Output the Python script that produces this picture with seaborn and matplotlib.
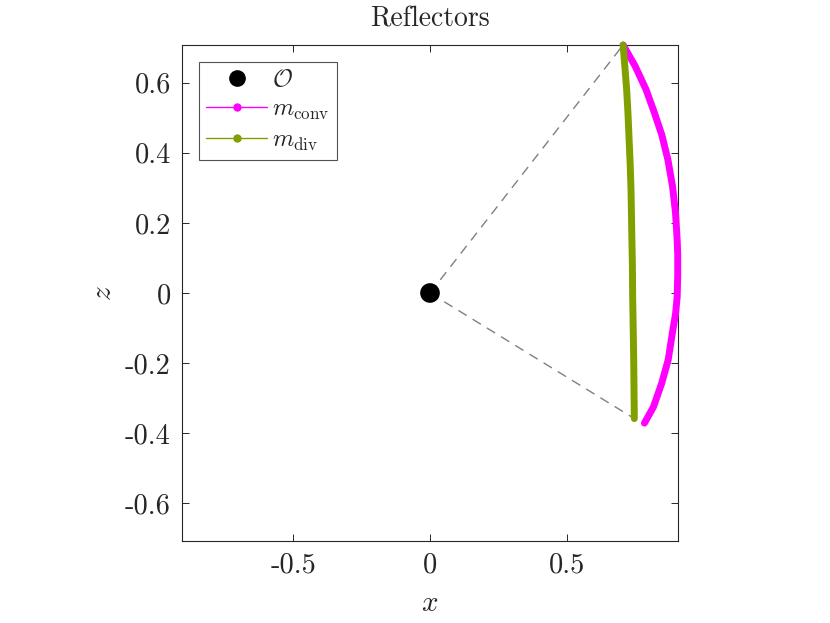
import numpy as np
import matplotlib
matplotlib.use("Agg")
import matplotlib.pyplot as plt
from matplotlib.lines import Line2D
import seaborn as sns

# reflector curves (x, z)
conv_x = [0.707, 0.751, 0.791, 0.822, 0.849, 0.871, 0.888, 0.899, 0.905, 0.907, 0.907, 0.905, 0.899, 0.889, 0.872, 0.848, 0.818, 0.785]
conv_z = [0.707, 0.647, 0.580, 0.513, 0.450, 0.380, 0.304, 0.228, 0.151, 0.110, 0.050, -0.011, -0.060, -0.106, -0.191, -0.258, -0.325, -0.371]
div_x = [0.707, 0.714, 0.720, 0.725, 0.729, 0.733, 0.736, 0.739, 0.741, 0.742, 0.744, 0.746, 0.747, 0.748]
div_z = [0.707, 0.640, 0.580, 0.510, 0.437, 0.365, 0.294, 0.161, 0.080, -0.011, -0.100, -0.200, -0.280, -0.358]
origin = (0.0, 0.0)

x_ticks = [-0.5, 0, 0.5]
x_ticklabels = ["-0.5", "0", "0.5"]
z_ticks = [-0.6, -0.4, -0.2, 0, 0.2, 0.4, 0.6]
z_ticklabels = ["-0.6", "-0.4", "-0.2", "0", "0.2", "0.4", "0.6"]

magenta = "#FF00FF"
olive = "#80A000"

sns.set_style("ticks")
plt.rcParams["font.family"] = ["cmr10", "DejaVu Serif"]
plt.rcParams["mathtext.fontset"] = "cm"
plt.rcParams["axes.unicode_minus"] = False

fig = plt.figure(figsize=(8.3, 6.23), dpi=100)
ax = fig.add_axes([182 / 830, 1 - 541 / 623, 496 / 830, 496 / 623])

# dashed rays from the origin to the ends of the reflector
for ex, ez in [(div_x[0], div_z[0]), (div_x[-1], div_z[-1])]:
    ax.plot([origin[0], ex], [origin[1], ez], color="#808080", lw=1.0,
            ls=(0, (7, 5)), zorder=1)

sns.lineplot(x=conv_x, y=conv_z, sort=False, estimator=None, ax=ax,
             color=magenta, lw=5, solid_capstyle="round",
             solid_joinstyle="round", zorder=3, clip_on=False)
sns.lineplot(x=div_x, y=div_z, sort=False, estimator=None, ax=ax,
             color=olive, lw=5, solid_capstyle="round",
             solid_joinstyle="round", zorder=4, clip_on=False)
sns.scatterplot(x=[origin[0]], y=[origin[1]], ax=ax, color="black", s=200,
                edgecolor="none", zorder=5)

ax.set_xlim(-0.908, 0.908)
ax.set_ylim(-0.707, 0.707)
ax.set_xticks(x_ticks)
ax.set_xticklabels(x_ticklabels)
ax.set_yticks(z_ticks)
ax.set_yticklabels(z_ticklabels)
ax.tick_params(direction="in", length=5, width=0.7, top=True, right=True,
               labelsize=20.5, colors="#262626")
ax.tick_params(axis="y", pad=8)
ax.tick_params(axis="x", pad=8)
for sp in ax.spines.values():
    sp.set_visible(True)
    sp.set_linewidth(0.8)
    sp.set_color("#262626")

ax.set_title("Reflectors", fontsize=20, pad=13)
ax.set_xlabel(r"$x$", fontsize=21, labelpad=9)
ax.set_ylabel(r"$z$", fontsize=21, labelpad=6)

handles = [
    Line2D([], [], ls="none", marker="o", color="black", markersize=11),
    Line2D([], [], color=magenta, lw=1, marker="o", markersize=5),
    Line2D([], [], color=olive, lw=1, marker="o", markersize=5),
]
labels = [r"$\mathcal{O}$", r"$m_{\rm conv}$", r"$m_{\rm div}$"]
leg = ax.legend(handles, labels, loc="upper left", fontsize=17.5, frameon=True,
                fancybox=False, edgecolor="#262626", borderaxespad=0.7,
                handlelength=2.5, handletextpad=0.2, borderpad=0.3,
                labelspacing=0.3)
leg.get_frame().set_linewidth(0.8)

fig.savefig("out.png", dpi=100, facecolor="white")
